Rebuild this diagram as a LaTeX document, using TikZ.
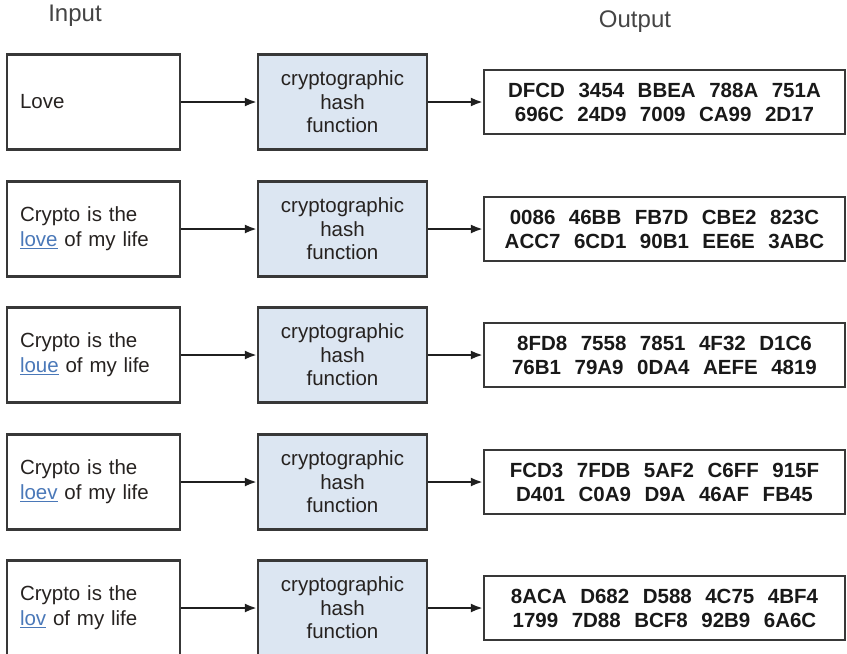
\documentclass[tikz,border=0pt]{standalone}
\usepackage{fontspec}
\setmainfont{Liberation Sans}
\usetikzlibrary{arrows.meta}
\definecolor{boxline}{HTML}{383838}
\definecolor{hashfill}{HTML}{DCE6F2}
\definecolor{wordblue}{HTML}{4A78B8}
\definecolor{inktext}{HTML}{262220}
\definecolor{labelgray}{HTML}{444444}
\newcommand{\hg}{\hspace{0.66em}}
\newcommand{\chg}[1]{{\color{wordblue}\underline{#1}}}

\begin{document}
\begin{tikzpicture}[x=1pt, y=-1pt,
    inbox/.style={draw=boxline, line width=2.2pt, minimum width=173pt, minimum height=95pt,
        text width=147pt, align=left, inner sep=0pt, text=inktext,
        font=\fontsize{20.5}{25}\selectfont},
    hashbox/.style={draw=boxline, fill=hashfill, line width=2.2pt, minimum width=169pt,
        minimum height=95pt, align=center, inner sep=0pt, text=inktext,
        font=\fontsize{20.5}{23.5}\selectfont},
    outbox/.style={draw=boxline, line width=2.2pt, minimum width=361pt, minimum height=64pt,
        align=center, inner sep=0pt, text=black!90,
        font=\fontsize{20.5}{24}\selectfont\bfseries},
    flow/.style={-{Latex[length=12pt,width=9pt]}, line width=2.3pt, draw=black!88}]
    \useasboundingbox (0,0) rectangle (847,654);

    \node[text=labelgray, font=\fontsize{24}{28}\selectfont] (inlabel) at (75,16) {Input};
    \node[text=labelgray, font=\fontsize{24}{28}\selectfont] (outlabel) at (635,22) {Output};

    \node[inbox] (in1) at (93.5,102) {Love};
    \node[inbox] (in2) at (93.5,229) {Crypto is the\\ \chg{love} of my life};
    \node[inbox] (in3) at (93.5,355) {Crypto is the\\ \chg{loue} of my life};
    \node[inbox] (in4) at (93.5,482) {Crypto is the\\ \chg{loev} of my life};
    \node[inbox] (in5) at (93.5,608) {Crypto is the\\ \chg{lov} of my life};

    \node[hashbox] (hash1) at (342.5,102) {cryptographic\\hash\\function};
    \node[hashbox] (hash2) at (342.5,229) {cryptographic\\hash\\function};
    \node[hashbox] (hash3) at (342.5,355) {cryptographic\\hash\\function};
    \node[hashbox] (hash4) at (342.5,482) {cryptographic\\hash\\function};
    \node[hashbox] (hash5) at (342.5,608) {cryptographic\\hash\\function};

    \node[outbox] (out1) at (664.5,102) {DFCD\hg 3454\hg BBEA\hg 788A\hg 751A\\696C\hg 24D9\hg 7009\hg CA99\hg 2D17};
    \node[outbox] (out2) at (664.5,229) {0086\hg 46BB\hg FB7D\hg CBE2\hg 823C\\ACC7\hg 6CD1\hg 90B1\hg EE6E\hg 3ABC};
    \node[outbox] (out3) at (664.5,355) {8FD8\hg 7558\hg 7851\hg 4F32\hg D1C6\\76B1\hg 79A9\hg 0DA4\hg AEFE\hg 4819};
    \node[outbox] (out4) at (664.5,482) {FCD3\hg 7FDB\hg 5AF2\hg C6FF\hg 915F\\D401\hg C0A9\hg D9A\hg 46AF\hg FB45};
    \node[outbox] (out5) at (664.5,608) {8ACA\hg D682\hg D588\hg 4C75\hg 4BF4\\1799\hg 7D88\hg BCF8\hg 92B9\hg 6A6C};

    \draw[flow] (in1) -- (hash1);
    \draw[flow] (in2) -- (hash2);
    \draw[flow] (in3) -- (hash3);
    \draw[flow] (in4) -- (hash4);
    \draw[flow] (in5) -- (hash5);
    \draw[flow] (hash1) -- (out1);
    \draw[flow] (hash2) -- (out2);
    \draw[flow] (hash3) -- (out3);
    \draw[flow] (hash4) -- (out4);
    \draw[flow] (hash5) -- (out5);
\end{tikzpicture}
\end{document}
